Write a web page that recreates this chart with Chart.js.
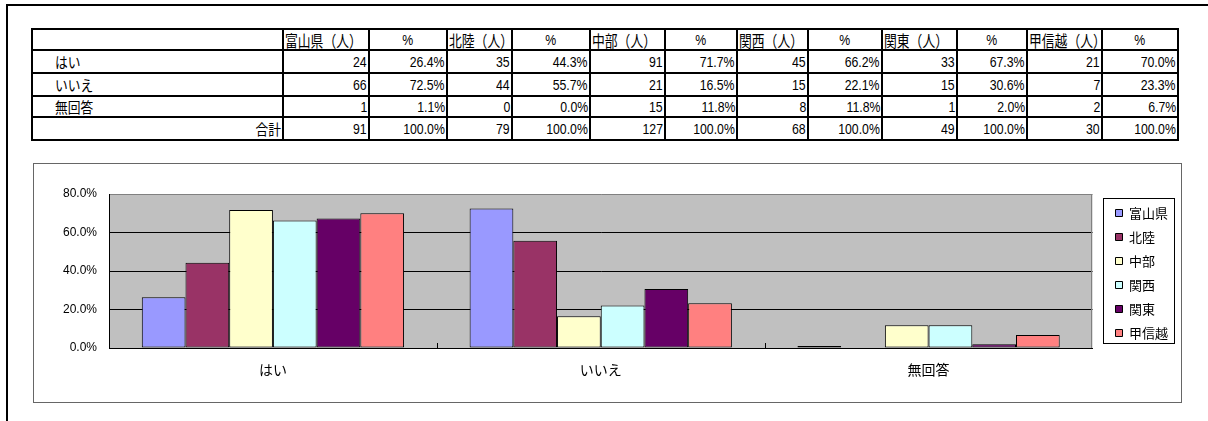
<!DOCTYPE html>
<html>
<head>
<meta charset="utf-8">
<script src="https://cdn.jsdelivr.net/npm/chart.js@4/dist/chart.umd.min.js"></script>
<style>
  body { margin: 0; width: 1208px; height: 421px; position: relative; overflow: hidden; background: #fff; }
  #frame { position: absolute; left: 6px; top: 4px; width: 1220px; height: 440px; border-top: 2px solid #000; border-left: 2px solid #000; }
  #tbl { position: absolute; left: 31px; top: 28px; display: grid; border-top: 2px solid #000; border-left: 2px solid #000;
         font-family: "Liberation Sans", sans-serif; font-size: 15px; color: #000; }
  #tbl div { box-sizing: border-box; border-bottom: 2px solid #000; border-right: 2px solid #000; white-space: nowrap; overflow: hidden;
             display: flex; align-items: center; padding: 0 1px; }
  #tbl .r { justify-content: flex-end; }
  #tbl .c { justify-content: center; }
  #tbl .l { justify-content: flex-start; }
  #tbl .ind { padding-left: 22px; }
  .num { display: inline-block; transform: scaleX(0.82); transform-origin: right center; }
  .c .num { transform-origin: center center; }
  .jp { display: inline-block; font-family: "Noto Sans CJK JP", sans-serif; font-size: 15px; transform: scaleX(0.85); }
  .hd { font-size: 16px; transform: scaleX(0.8); }
  .l .jp { transform-origin: left center; }
  .r .jp { transform-origin: right center; }
  #box { position: absolute; left: 33px; top: 163px; width: 1147px; height: 238px; border: 1px solid #666; background: #fff; }
  #box canvas { display: block; }
</style>
</head>
<body>
<div id="frame"></div>
<div id="tbl"></div>
<div id="box"><canvas id="myChart" width="1147" height="238"></canvas></div>
<script>
// answers (chart categories / table rows)
const categories = ["はい", "いいえ", "無回答"];
const rowLabels = ["はい", "いいえ", "無回答", "合計"];
const regions = ["富山県", "北陸", "中部", "関西", "関東", "甲信越"];

// counts per region: はい, いいえ, 無回答, 合計
const toyamaN = [24, 66, 1, 91];
const hokurikuN = [35, 44, 0, 79];
const chubuN = [91, 21, 15, 127];
const kansaiN = [45, 15, 8, 68];
const kantoN = [33, 15, 1, 49];
const koshinetsuN = [21, 7, 2, 30];

// percentages per region: はい, いいえ, 無回答, 合計
const toyamaP = [26.4, 72.5, 1.1, 100.0];
const hokurikuP = [44.3, 55.7, 0.0, 100.0];
const chubuP = [71.7, 16.5, 11.8, 100.0];
const kansaiP = [66.2, 22.1, 11.8, 100.0];
const kantoP = [67.3, 30.6, 2.0, 100.0];
const koshinetsuP = [70.0, 23.3, 6.7, 100.0];

const yTicks = [0, 20, 40, 60, 80];
const colors = ["#9999ff", "#993366", "#ffffcc", "#ccffff", "#660066", "#ff8080"];

const counts = [toyamaN, hokurikuN, chubuN, kansaiN, kantoN, koshinetsuN];
const pcts = [toyamaP, hokurikuP, chubuP, kansaiP, kantoP, koshinetsuP];

// ---- table ----
const colW = [251, 86, 78, 65, 78, 75, 72, 71, 74, 75, 70, 75, 76];
const rowH = [21, 23, 23, 21, 23];
const tbl = document.getElementById("tbl");
tbl.style.gridTemplateColumns = colW.map(w => w + "px").join(" ");
tbl.style.gridTemplateRows = rowH.map(h => h + "px").join(" ");

function cell(html, cls) {
  const d = document.createElement("div");
  d.className = cls;
  d.innerHTML = html;
  tbl.appendChild(d);
}
const jp = (s, extra) => '<span class="jp' + (extra ? " " + extra : "") + '">' + s + '</span>';
const num = s => '<span class="num">' + s + '</span>';

cell("", "l");
regions.forEach(r => {
  cell(jp(r + "（人）", "hd"), "l");
  cell(num("%"), "c");
});
rowLabels.forEach((lab, i) => {
  if (i < rowLabels.length - 1) cell(jp(lab), "l ind");
  else cell(jp(lab), "r");
  regions.forEach((r, j) => {
    cell(num(String(counts[j][i])), "r");
    cell(num(pcts[j][i].toFixed(1) + "%"), "r");
  });
});

// ---- chart ----
const LEG_PAD = 11;
const excelLook = {
  id: "excelLook",
  afterLayout(chart) {
    // legend sits a bit away from the plot, first item level with the sheet
    const a = chart.chartArea;
    const lg = chart.legend;
    lg.left += 12;
    lg.right += 12;
    const colH = lg.columnSizes && lg.columnSizes[0] ? lg.columnSizes[0].height : 144;
    const start = (lg.top + LEG_PAD + lg.bottom - colH) / 2;
    const dy = (a.top + 12.5) - start;
    lg.top += dy;
    lg.bottom += dy;
  },
  beforeDraw(chart) {
    const {ctx, chartArea: a} = chart;
    ctx.save();
    ctx.fillStyle = "#c0c0c0";
    ctx.fillRect(a.left, a.top, a.width, a.height);
    ctx.restore();
  },
  afterDraw(chart) {
    const {ctx, chartArea: a} = chart;
    const xs = chart.scales.x;
    ctx.save();
    ctx.lineWidth = 1;
    // right border of plot
    ctx.strokeStyle = "#808080";
    ctx.beginPath();
    ctx.moveTo(Math.round(a.right) - 0.5, a.top);
    ctx.lineTo(Math.round(a.right) - 0.5, a.bottom);
    ctx.stroke();
    // inside tick marks between categories
    ctx.strokeStyle = "#000";
    for (let i = 0; i < categories.length - 1; i++) {
      const x = Math.round((xs.getPixelForValue(i) + xs.getPixelForValue(i + 1)) / 2) + 0.5;
      ctx.beginPath();
      ctx.moveTo(x, a.bottom);
      ctx.lineTo(x, a.bottom - 5);
      ctx.stroke();
    }
    // legend frame
    const x0 = Math.round(a.right + 11) + 0.5;
    ctx.strokeStyle = "#000";
    ctx.strokeRect(x0, Math.round(a.top + 4) + 0.5, 71, Math.round(a.height - 9));
    ctx.restore();
  }
};

const ctx = document.getElementById("myChart").getContext("2d");
const myChart = new Chart(ctx, {
  type: "bar",
  data: {
    labels: categories,
    datasets: regions.map((r, i) => ({
      label: r,
      data: pcts[i].slice(0, categories.length),
      backgroundColor: colors[i],
      borderColor: "#000",
      borderWidth: 1,
      borderSkipped: false,
      barPercentage: 1,
      categoryPercentage: 0.8,
    })),
  },
  options: {
    responsive: false,
    animation: false,
    layout: { padding: { top: 30, right: 15, left: 0, bottom: 0 } },
    plugins: {
      legend: {
        position: "right",
        labels: {
          boxWidth: 7,
          boxHeight: 7,
          padding: LEG_PAD,
          color: "#000",
          font: { size: 13, family: '"Noto Sans CJK JP"' },
        },
      },
      tooltip: { enabled: false },
    },
    scales: {
      x: {
        grid: { display: false },
        border: { color: "#000" },
        ticks: { color: "#000", padding: 5, font: { size: 14, family: '"Noto Sans CJK JP"' } },
        afterFit(s) { s.height = 54; },
      },
      y: {
        min: yTicks[0],
        max: yTicks[yTicks.length - 1],
        afterBuildTicks(s) { s.ticks = yTicks.map(v => ({ value: v })); },
        ticks: {
          color: "#000",
          padding: 12,
          font: { size: 12, family: '"Liberation Sans"' },
          callback: v => v.toFixed(1) + "%",
        },
        grid: { color: c => (c.tick && c.tick.value === 80 ? "#808080" : "#000"), drawTicks: false },
        border: { color: "#000" },
        afterFit(s) { s.width = 75; },
      },
    },
  },
  plugins: [excelLook],
});
</script>
</body>
</html>
